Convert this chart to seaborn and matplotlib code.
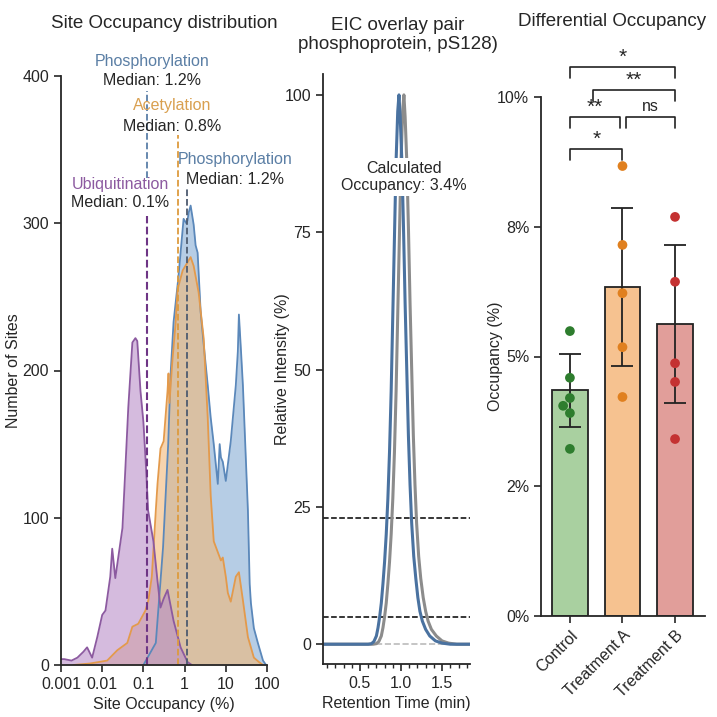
import seaborn as sns
import matplotlib.pyplot as plt
import pandas as pd
from matplotlib.ticker import FixedLocator, NullFormatter, LogLocator, MultipleLocator

# site occupancy distributions (occupancy %, number of sites)
ubi_x = [0.001, 0.0012, 0.0018, 0.0025, 0.0035, 0.0043, 0.0057, 0.0076, 0.010, 0.012, 0.0157, 0.0175,
         0.0208, 0.031, 0.036, 0.043, 0.054, 0.064, 0.071, 0.085, 0.10, 0.118, 0.13, 0.175, 0.22, 0.26,
         0.31, 0.385, 0.54, 0.80, 1.18, 1.5]
ubi_y = [4, 4, 3, 5, 9, 12, 5, 19, 34, 37, 60, 79, 59, 93, 130, 175, 219, 222, 220, 186, 165, 130, 105,
         84, 57, 39, 45, 51, 30, 12, 2, 0]

ace_x = [0.002, 0.005, 0.0132, 0.0232, 0.0407, 0.054, 0.075, 0.112, 0.132, 0.16, 0.2, 0.22, 0.26, 0.31,
         0.385, 0.407, 0.43, 0.5, 0.6, 0.675, 0.9, 1.4, 1.66, 2.19, 2.9, 3.64, 4.3, 5.1, 7.6, 8.45, 10,
         11.2, 13.2, 17.5, 20.8, 26, 34.4, 48, 64, 80]
ace_y = [0, 1, 3, 10, 15, 26, 28, 37, 44, 60, 105, 123, 147, 152, 186, 198, 178, 205, 231, 255, 268,
         277, 271, 253, 222, 168, 115, 84, 71, 73, 60, 49, 43, 60, 63, 44, 19, 5, 2, 0]

pho_x = [0.1, 0.2, 0.3, 0.4, 0.456, 0.54, 0.7, 0.945, 1.1, 1.18, 1.25, 1.4, 1.66, 1.85, 2.07, 2.45, 2.9,
         3.64, 4.3, 5.1, 6.4, 7.1, 7.6, 8.45, 10, 13.2, 17.5, 19.6, 20.8, 23.2, 26, 34.4, 38, 40.7, 48,
         60, 80, 95]
pho_y = [0, 15, 80, 150, 197, 233, 262, 303, 300, 302, 307, 312, 299, 285, 280, 240, 218, 190, 168, 150,
         123, 150, 141, 138, 125, 152, 190, 213, 238, 215, 190, 105, 55, 42, 25, 15, 3, 0]

log_ticks = [0.001, 0.01, 0.1, 1, 10, 100]
log_labels = ['0.001', '0.01', '0.1', '1', '10', '100']

# EIC traces (retention time min, relative intensity %)
light_t = [0.05, 0.6, 0.64, 0.67, 0.7, 0.72, 0.74, 0.76, 0.78, 0.8, 0.82, 0.84, 0.86, 0.88, 0.9,
           0.92, 0.94, 0.96, 0.975, 0.99, 1.01, 1.03, 1.05, 1.07, 1.09, 1.11, 1.13, 1.155, 1.18,
           1.205, 1.23, 1.26, 1.3, 1.35, 1.42, 1.5, 1.6, 1.84]
light_i = [0, 0, 0.1, 0.5, 1.5, 3, 5, 7.5, 11, 15, 20, 26.5, 35, 46, 60, 74, 88, 97, 100, 96, 88,
           76, 62, 50, 38, 29, 22, 16, 12, 8.5, 6, 4.2, 2.7, 1.5, 0.6, 0.2, 0, 0]
heavy_t = [0.05, 0.66, 0.7, 0.73, 0.76, 0.78, 0.8, 0.82, 0.84, 0.86, 0.88, 0.9, 0.92, 0.94, 0.96,
           0.98, 1.0, 1.02, 1.035, 1.05, 1.07, 1.09, 1.11, 1.13, 1.15, 1.17, 1.19, 1.215, 1.24, 1.27,
           1.3, 1.33, 1.37, 1.43, 1.5, 1.58, 1.68, 1.84]
heavy_i = [0, 0, 0.1, 0.5, 1.5, 3, 5, 7.5, 11, 15, 20, 26.5, 35, 46, 60, 74, 88, 97, 100, 96, 88,
           76, 62, 50, 38, 29, 22, 16, 12, 8.5, 6, 4.2, 2.7, 1.5, 0.6, 0.2, 0, 0]
thresholds = [23, 5]

# differential occupancy
groups = ['Control', 'Treatment A', 'Treatment B']
means = [4.35, 6.34, 5.63]
errs = [0.7, 1.53, 1.52]
ctrl_pts = [5.49, 4.59, 4.2, 4.05, 3.91, 3.22]
a_pts = [8.67, 7.15, 6.22, 5.18, 4.22]
b_pts = [7.69, 6.44, 4.87, 4.51, 3.41]
occ_ticks = [0, 2.5, 5, 7.5, 10]
occ_labels = ['0%', '2%', '5%', '8%', '10%']

sns.set_style('ticks')
plt.rcParams['font.family'] = ['Liberation Sans', 'DejaVu Sans']
plt.rcParams['font.size'] = 11.5
plt.rcParams['axes.linewidth'] = 1.3

fig = plt.figure(figsize=(7.17, 7.17), dpi=100)
W = 717.0

# ---------- panel 1 ----------
ax1 = fig.add_axes([61 / W, 52 / W, 206 / W, 589 / W])
ax1.set_xscale('log')
dists = [(pho_x, pho_y, '#86acd4', '#5b88ba'),
         (ace_x, ace_y, '#f2b878', '#e39a4c'),
         (ubi_x, ubi_y, '#b98fc9', '#8c5aa0')]
for xs, ys, fc, ec in dists:
    ax1.fill_between(xs, ys, color=fc, alpha=0.6, lw=0)
    sns.lineplot(x=xs, y=ys, ax=ax1, color=ec, lw=1.3, estimator=None, sort=False)

ax1.plot([0.12, 0.12], [0, 305], ls='--', color='#6e3585', lw=1.5)
ax1.plot([0.12, 0.12], [331, 390], ls='--', color='#5b7fa8', lw=1.3, clip_on=False)
ax1.plot([0.68, 0.68], [0, 360], ls='--', color='#dd9b3e', lw=1.3)
ax1.plot([1.12, 1.12], [0, 323], ls='--', color='#4d5b70', lw=1.3)

ax1.text(0.166, 410, 'Phosphorylation', color='#5b7fa5', ha='center', va='center', clip_on=False)
ax1.text(0.166, 397, 'Median: 1.2%', ha='center', va='center', clip_on=False)
ax1.text(0.51, 380, 'Acetylation', color='#d9a050', ha='center', va='center')
ax1.text(0.51, 366, 'Median: 0.8%', ha='center', va='center')
ax1.text(17, 343, 'Phosphorylation', color='#5b7fa5', ha='center', va='center')
ax1.text(17, 330, 'Median: 1.2%', ha='center', va='center')
ax1.text(0.0275, 326, 'Ubiquitination', color='#8c5aa0', ha='center', va='center')
ax1.text(0.0275, 314, 'Median: 0.1%', ha='center', va='center')

ax1.set_xlim(0.001, 100)
ax1.set_ylim(0, 400)
ax1.xaxis.set_major_locator(FixedLocator(log_ticks))
ax1.set_xticklabels(log_labels)
ax1.xaxis.set_minor_locator(LogLocator(base=10, subs=range(2, 10)))
ax1.xaxis.set_minor_formatter(NullFormatter())
ax1.set_yticks([0, 100, 200, 300, 400])
ax1.set_xlabel('Site Occupancy (%)')
ax1.set_ylabel('Number of Sites', labelpad=1)
sns.despine(ax=ax1)

# ---------- panel 2 ----------
ax2 = fig.add_axes([323 / W, 53 / W, 147 / W, 590 / W])
ax2.axhline(0, ls='--', color='#bbbbbb', lw=1.2)
for th in thresholds:
    ax2.axhline(th, ls='--', color='black', lw=1.1)
sns.lineplot(x=heavy_t, y=heavy_i, ax=ax2, color='#8c8c8c', lw=2.2, estimator=None, sort=False)
sns.lineplot(x=light_t, y=light_i, ax=ax2, color='#4a72a0', lw=2.2, estimator=None, sort=False)
ax2.text(1.04, 85, 'Calculated\nOccupancy: 3.4%', ha='center', va='center', zorder=5,
         bbox=dict(facecolor='white', edgecolor='none', pad=2))
ax2.set_xlim(0.05, 1.84)
ax2.set_ylim(-3.6, 103.8)
ax2.set_xticks([0.5, 1.0, 1.5])
ax2.xaxis.set_minor_locator(MultipleLocator(0.1))
ax2.set_yticks([0, 25, 50, 75, 100])
ax2.set_xlabel('Retention Time (min)')
ax2.set_ylabel('Relative Intensity (%)', labelpad=-4)
sns.despine(ax=ax2)

# ---------- panel 3 ----------
ax3 = fig.add_axes([541 / W, 101 / W, 164 / W, 519 / W])
bar_cols = ['#a9d0a0', '#f6c290', '#e19e9a']
pt_cols = ['#2e7d2e', '#e0801f', '#c43232']
sns.barplot(x=groups, y=means, hue=groups, palette=bar_cols, legend=False, ax=ax3, saturation=1,
            width=0.67, edgecolor='#222222', linewidth=1.3, errorbar=None)
ax3.errorbar(range(3), means, yerr=errs, fmt='none', ecolor='#222222', elinewidth=1.3,
             capsize=8, capthick=1.3, zorder=4)
pts = pd.DataFrame({'group': ['Control'] * len(ctrl_pts) + ['Treatment A'] * len(a_pts)
                    + ['Treatment B'] * len(b_pts),
                    'occ': ctrl_pts + a_pts + b_pts})
sns.swarmplot(data=pts, x='group', y='occ', hue='group', palette=pt_cols, legend=False,
              size=7, ax=ax3, zorder=5)

brackets = [(0, 1, 9.0, '*'), (0, 0.95, 9.61, '**'), (1.06, 2, 9.61, 'ns'),
            (0.43, 2, 10.13, '**'), (0, 2, 10.58, '*')]
for x1, x2, y, lab in brackets:
    ax3.plot([x1, x1, x2, x2], [y - 0.21, y, y, y - 0.21], color='#222222', lw=1.2, clip_on=False)
    star = lab != 'ns'
    ax3.text((x1 + x2) / 2, y + (0.0 if star else 0.06), lab, ha='center', va='bottom',
             fontsize=15 if star else 11.5, clip_on=False)

ax3.set_xlim(-0.55, 2.57)
ax3.set_ylim(0, 10)
ax3.set_yticks(occ_ticks)
ax3.set_yticklabels(occ_labels)
ax3.set_xlabel('')
ax3.set_ylabel('Occupancy (%)', labelpad=-4)
for lab in ax3.get_xticklabels():
    lab.set_rotation(45)
    lab.set_ha('right')
    lab.set_rotation_mode('anchor')
sns.despine(ax=ax3)

for ax in (ax1, ax2, ax3):
    ax.tick_params(which='major', length=5, width=1.2, labelsize=11.5)
    ax.tick_params(which='minor', length=3, width=1)

fig.text(164 / W, 1 - 23 / W, 'Site Occupancy distribution', ha='center', va='center', fontsize=13.5)
fig.text(398 / W, 1 - 35 / W, 'EIC overlay pair\nphosphoprotein, pS128)', ha='center', va='center',
         fontsize=13.5, linespacing=1.1)
fig.text(612 / W, 1 - 22 / W, 'Differential Occupancy', ha='center', va='center', fontsize=13.5)

fig.savefig('out.png', dpi=100)
